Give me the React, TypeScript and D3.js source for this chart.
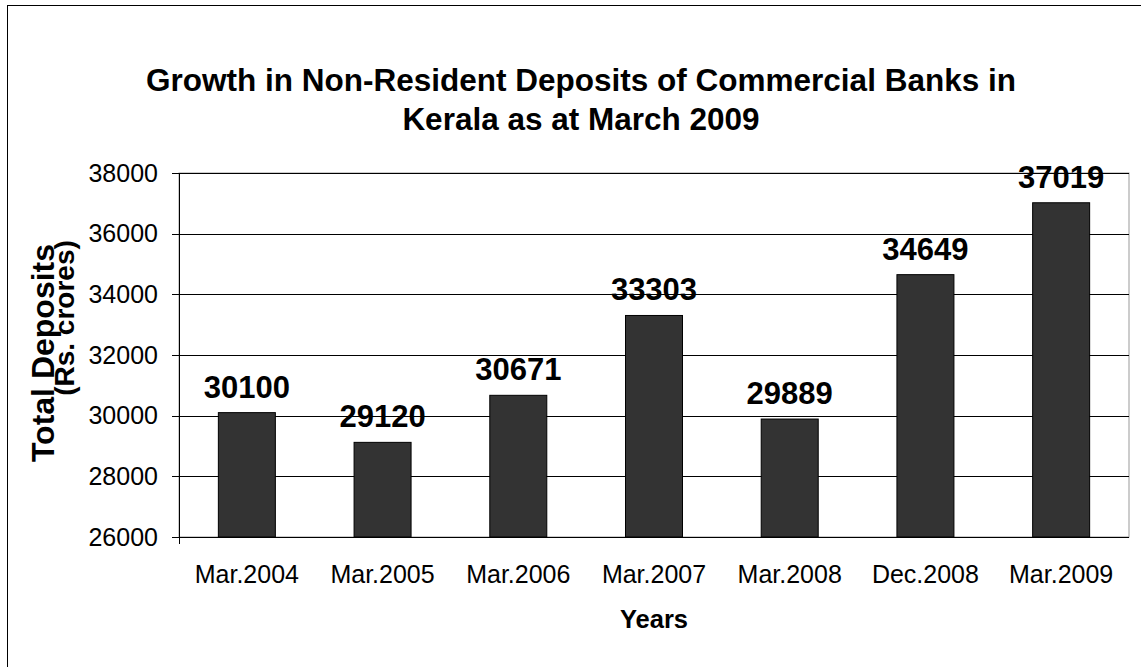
import React from "react";
import * as d3 from "d3";

const categories = ["Mar.2004", "Mar.2005", "Mar.2006", "Mar.2007", "Mar.2008", "Dec.2008", "Mar.2009"];
const deposits = [30100, 29120, 30671, 33303, 29889, 34649, 37019];
const yTicks = [26000, 28000, 30000, 32000, 34000, 36000, 38000];

const W = 1141;
const H = 667;
const margin = { top: 173, right: 12, bottom: 130, left: 179 };
const font = "Liberation Sans, Arial, sans-serif";

export default function App() {
  const x = d3
    .scaleBand()
    .domain(categories)
    .range([margin.left, W - margin.right])
    .paddingInner(0.58)
    .paddingOuter(0.29);

  const y = d3
    .scaleLinear()
    .domain([26000, 38000])
    .range([H - margin.bottom, margin.top]);

  const x0 = margin.left;
  const x1 = W - margin.right;
  const yBottom = y(26000);
  const yTop = y(38000);

  return (
    <svg
      width={W}
      height={H}
      style={{ position: "absolute", left: 0, top: 0, background: "#fff" }}
      fontFamily={font}
    >
      {/* outer frame (cropped at right / bottom) */}
      <rect x={7.5} y={5.5} width={W + 10} height={H + 10} fill="none" stroke="#000" />

      {/* title */}
      <text x={581} y={91} textAnchor="middle" fontSize={31.5} fontWeight="bold">
        Growth in Non-Resident Deposits of Commercial Banks in
      </text>
      <text x={581} y={130} textAnchor="middle" fontSize={31.5} fontWeight="bold">
        Kerala as at March 2009
      </text>

      {/* plot frame */}
      <rect x={x0} y={yTop} width={x1 - x0} height={yBottom - yTop} fill="none" stroke="#999" />

      {/* gridlines + y ticks */}
      {yTicks.map((t) => (
        <g key={t}>
          <line x1={x0 - 7} x2={x1} y1={Math.round(y(t)) + 0.5} y2={Math.round(y(t)) + 0.5} stroke="#000" />
          <text x={x0 - 21} y={y(t)} dy="0.35em" textAnchor="end" fontSize={25}>
            {t}
          </text>
        </g>
      ))}
      <line x1={x0 + 0.5} x2={x0 + 0.5} y1={yTop} y2={yBottom + 7} stroke="#000" />

      {/* bars */}
      {categories.map((c, i) => (
        <g key={c}>
          <rect
            x={x(c)!}
            y={y(deposits[i])}
            width={x.bandwidth()}
            height={yBottom - y(deposits[i])}
            fill="#333333"
            stroke="#000"
            strokeWidth={1}
          />
          <text
            x={x(c)! + x.bandwidth() / 2}
            y={y(deposits[i]) - 15}
            textAnchor="middle"
            fontSize={31}
            fontWeight="bold"
          >
            {deposits[i]}
          </text>
          <text x={x(c)! + x.bandwidth() / 2} y={583} textAnchor="middle" fontSize={25}>
            {c}
          </text>
        </g>
      ))}

      {/* x axis line */}
      <line x1={x0} x2={x1} y1={Math.round(yBottom) + 0.5} y2={Math.round(yBottom) + 0.5} stroke="#000" />

      {/* axis titles */}
      <text x={(x0 + x1) / 2} y={628} textAnchor="middle" fontSize={25.5} fontWeight="bold">
        Years
      </text>
      <text
        transform={`translate(54, 353) rotate(-90)`}
        textAnchor="middle"
        fontSize={32}
        fontWeight="bold"
      >
        Total Deposits
      </text>
      <text
        transform={`translate(74, 318) rotate(-90)`}
        textAnchor="middle"
        fontSize={28}
        fontWeight="bold"
      >
        (Rs. crores)
      </text>
    </svg>
  );
}
